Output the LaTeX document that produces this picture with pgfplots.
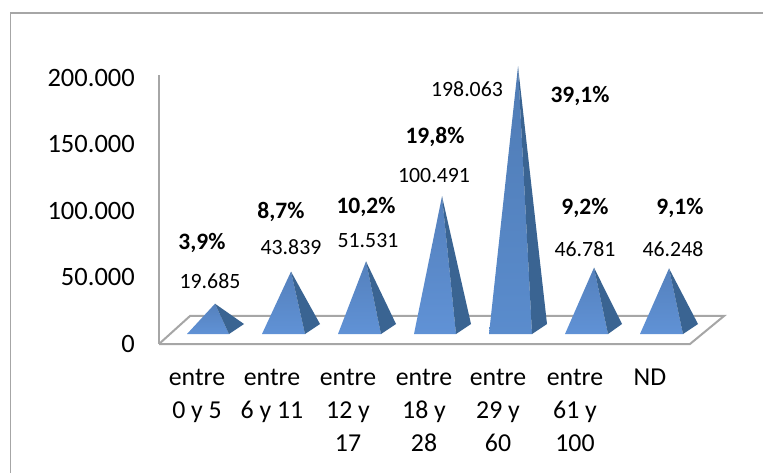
\documentclass[border=0pt]{standalone}
\usepackage{pgfplots}
\pgfplotsset{compat=1.18}
\usepackage{fontspec}
\setmainfont{Carlito}
\definecolor{grl}{RGB}{166,166,166}
\definecolor{rightc}{RGB}{58,100,146}
\newcommand{\pyr}[6]{%
  \edef\apex{\the\numexpr#5+10600\relax}%
  \edef\temp{\noexpand\addplot[draw=none,shade,shading angle=0,top color=#6!88!black,bottom color=#6] coordinates {(#1,7519)(#2,\apex)(#3,7519)};}\temp
  \edef\temp{\noexpand\addplot[draw=none,fill=rightc] coordinates {(#3,7519)(#2,\apex)(#4,15038)};}\temp
}
\definecolor{c1}{RGB}{96,146,214}
\definecolor{c2}{RGB}{90,140,205}
\newcommand{\lab}[3]{\node[font=\fontsize{21.8}{24}\selectfont,inner sep=0pt] at (rel axis cs:{#1/763},{1-#2/472}) {#3};}
\newcommand{\blab}[3]{\node[font=\fontsize{23.5}{28}\selectfont\bfseries,inner sep=0pt] at (rel axis cs:{#1/763},{1-#2/472}) {#3};}
\begin{document}
\begin{tikzpicture}
\useasboundingbox (0,0) rectangle (763pt,472pt);
\draw[grl,line width=1.5pt] (10.5pt,-5pt) -- (10.5pt,459pt) -- (770pt,459pt);
\begin{axis}[
  at={(0,0)},anchor=south west,
  scale only axis,width=763pt,height=472pt,
  xmin=0,xmax=763,
  ymin=-96241,ymax=258647,
  clip=false,
  scaled y ticks=false,
  axis line style={draw=none},
  major tick length=0pt,
  tick style={draw=none},
  ytick={0,50000,100000,150000,200000},
  yticklabels={0,50.000,100.000,150.000,200.000},
  yticklabel style={font=\fontsize{26.5}{30}\selectfont,anchor=east,inner sep=0pt,xshift=135pt},
  xtick={197,272,348,424,498,575,650},
  xticklabels={{entre\\0 y 5},{entre\\6 y 11},{entre\\12 y\\17},{entre\\18 y\\28},{entre\\29 y\\60},{entre\\61 y\\100},{ND}},
  xticklabel style={font=\fontsize{25.8}{33}\selectfont,align=center,anchor=north,inner sep=0pt,yshift=103.5pt},
]
\addplot[draw=grl,line width=2pt,fill=white] coordinates {(159,0)(190,21053)(724,21053)(690,0)(159,0)};
\addplot[draw=grl,line width=2pt] coordinates {(159,0)(159,202000)};
\pyr{187}{215}{229}{244}{19685}{c1}
\pyr{262}{291}{305}{320}{43839}{c1}
\pyr{338}{366}{381}{396}{51531}{c1}
\pyr{414}{442}{456}{471}{100491}{c1}
\pyr{489}{518}{532}{547}{198063}{c2}
\pyr{565}{594}{608}{622}{46781}{c1}
\pyr{640}{669}{683}{698}{46248}{c1}
\lab{210}{281}{19.685}
\lab{291}{247}{43.839}
\lab{368}{241}{51.531}
\lab{434}{176}{100.491}
\lab{467}{89}{198.063}
\lab{585}{249}{46.781}
\lab{673}{249}{46.248}
\blab{202}{243}{3,9\%}
\blab{281}{212}{8,7\%}
\blab{366}{207}{10,2\%}
\blab{435}{137}{19,8\%}
\blab{580}{96}{39,1\%}
\blab{585}{208}{9,2\%}
\blab{680}{208}{9,1\%}
\end{axis}
\end{tikzpicture}
\end{document}
